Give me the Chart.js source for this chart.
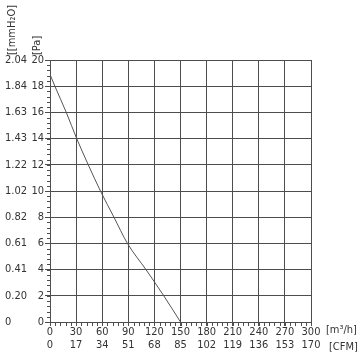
<!DOCTYPE html>
<html>
<head>
<meta charset="utf-8">
<script src="https://cdn.jsdelivr.net/npm/chart.js@4.4.1/dist/chart.umd.min.js"></script>
<style>
  html, body { margin: 0; padding: 0; background: #ffffff; }
  #wrap { width: 362px; height: 355px; position: relative; }
</style>
</head>
<body>
<div id="wrap"><canvas id="c" width="362" height="355"></canvas></div>
<script>
// ---- data ----
const flowM3h    = [0,    5.6,  18.7, 30.7, 44,   58,   73.5, 89,   110.3, 130.8, 150];
const pressurePa = [18.9, 18,   16,   14,   12,   10,   8,    6,    4,     2,     0];

const pressureTicks = [0, 2, 4, 6, 8, 10, 12, 14, 16, 18, 20];
const mmH2OLabels   = ['0', '0.20', '0.41', '0.61', '0.82', '1.02', '1.22', '1.43', '1.63', '1.84', '2.04'];
const flowTicks     = [0, 30, 60, 90, 120, 150, 180, 210, 240, 270, 300];
const cfmLabels     = ['0', '17', '34', '51', '68', '85', '102', '119', '136', '153', '170'];

const yTitlePa  = '[Pa]';
const yTitleMm  = '[[mmH\u2082O]';
const xTitleM3h = '[m\u00B3/h]';
const xTitleCfm = '[CFM]';

// ---- style ----
const FONT = '"DejaVu Sans Condensed", "DejaVu Sans", sans-serif';
const FS = 11;
const TXT = '#333333';
const GRID = '#4d4d4d';
const minorFlowStep = 6;
const minorPressureStep = 0.4;

const extras = {
  id: 'extras',
  afterDraw(chart) {
    const { ctx, scales } = chart;
    const x = scales.x, y = scales.y;
    ctx.save();
    // minor ticks
    ctx.strokeStyle = GRID;
    ctx.lineWidth = 1;
    ctx.beginPath();
    const xmax = flowTicks[flowTicks.length - 1];
    for (let i = 0; i * minorFlowStep <= xmax + 1e-9; i++) {
      const px = Math.round(x.getPixelForValue(i * minorFlowStep)) + 0.5;
      ctx.moveTo(px, y.bottom);
      ctx.lineTo(px, y.bottom + 4);
    }
    const ymax = pressureTicks[pressureTicks.length - 1];
    for (let i = 0; i * minorPressureStep <= ymax + 1e-9; i++) {
      const py = Math.round(y.getPixelForValue(i * minorPressureStep)) + 0.5;
      ctx.moveTo(x.left - 3, py);
      ctx.lineTo(x.left, py);
    }
    ctx.stroke();

    // titles
    ctx.fillStyle = TXT;
    ctx.font = FS + 'px ' + FONT;
    ctx.textBaseline = 'middle';
    ctx.textAlign = 'left';
    const top = y.top;
    ctx.save();
    ctx.translate(37, top - 5);
    ctx.rotate(-Math.PI / 2);
    ctx.fillText(yTitlePa, 0, 0);
    ctx.restore();
    ctx.save();
    ctx.translate(12, top - 5);
    ctx.rotate(-Math.PI / 2);
    ctx.fillText(yTitleMm, 0, 0);
    ctx.restore();

    ctx.fillText(xTitleM3h, x.right + 15, y.bottom + 8);
    ctx.fillText(xTitleCfm, x.right + 18, y.bottom + 25);
    ctx.restore();
  }
};

new Chart(document.getElementById('c'), {
  type: 'scatter',
  data: {
    datasets: [{
      data: flowM3h.map((v, i) => ({ x: v, y: pressurePa[i] })),
      showLine: true,
      borderColor: '#555555',
      borderWidth: 1,
      pointRadius: 0,
      tension: 0.3,
      cubicInterpolationMode: 'monotone',
      fill: false
    }]
  },
  options: {
    responsive: false,
    animation: false,
    events: [],
    layout: { padding: { left: 5, top: 60, right: 51, bottom: 0 } },
    plugins: { legend: { display: false }, tooltip: { enabled: false } },
    scales: {
      x: {
        type: 'linear', position: 'bottom', weight: 0,
        min: flowTicks[0], max: flowTicks[flowTicks.length - 1],
        afterBuildTicks: s => { s.ticks = flowTicks.map(v => ({ value: v })); },
        ticks: { color: TXT, font: { size: FS, family: FONT }, padding: 0, maxRotation: 0, autoSkip: false,
                 callback: v => String(v) },
        grid: { color: GRID, tickColor: GRID, tickLength: 4, lineWidth: 1 },
        border: { color: GRID },
        afterFit: s => { s.height = 16; }
      },
      xCfm: {
        type: 'linear', position: 'bottom', weight: 1,
        min: flowTicks[0], max: flowTicks[flowTicks.length - 1],
        afterBuildTicks: s => { s.ticks = flowTicks.map(v => ({ value: v })); },
        ticks: { color: TXT, font: { size: FS, family: FONT }, padding: 1, maxRotation: 0, autoSkip: false,
                 callback: (v, i) => cfmLabels[i] },
        grid: { drawOnChartArea: false, drawTicks: false },
        border: { display: false },
        afterFit: s => { s.height = 17; }
      },
      y: {
        type: 'linear', position: 'left', weight: 0,
        min: pressureTicks[0], max: pressureTicks[pressureTicks.length - 1],
        afterBuildTicks: s => { s.ticks = pressureTicks.map(v => ({ value: v })); },
        ticks: { color: TXT, font: { size: FS, family: FONT }, padding: 1, autoSkip: false,
                 callback: v => String(v) },
        grid: { color: GRID, tickColor: GRID, tickLength: 5, lineWidth: 1 },
        border: { color: GRID },
        afterFit: s => { s.width = 21; }
      },
      yMm: {
        type: 'linear', position: 'left', weight: 1,
        min: pressureTicks[0], max: pressureTicks[pressureTicks.length - 1],
        afterBuildTicks: s => { s.ticks = pressureTicks.map(v => ({ value: v })); },
        ticks: { color: TXT, font: { size: FS, family: FONT }, padding: 0, autoSkip: false, crossAlign: 'far',
                 callback: (v, i) => mmH2OLabels[i] },
        grid: { drawOnChartArea: false, drawTicks: false },
        border: { display: false },
        afterFit: s => { s.width = 24; }
      }
    }
  },
  plugins: [extras]
});
</script>
</body>
</html>
